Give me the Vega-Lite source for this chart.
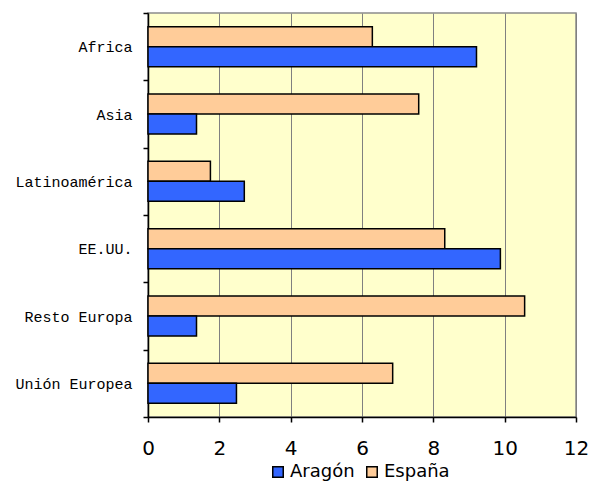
{
  "$schema": "https://vega.github.io/schema/vega-lite/v6.json",
  "width": 428,
  "height": 404,
  "autosize": {"type": "none"},
  "padding": {"left": 148, "top": 13, "right": 14, "bottom": 68},
  "background": "white",
  "config": {
    "view": {"fill": "#FFFFCC", "stroke": "#8c8c8c", "strokeWidth": 1.5}
  },
  "data": {
    "values": [
      {"region": "Africa", "serie": "España", "valor": 6.29},
      {"region": "Africa", "serie": "Aragón", "valor": 9.21},
      {"region": "Asia", "serie": "España", "valor": 7.59},
      {"region": "Asia", "serie": "Aragón", "valor": 1.36},
      {"region": "Latinoamérica", "serie": "España", "valor": 1.75},
      {"region": "Latinoamérica", "serie": "Aragón", "valor": 2.7},
      {"region": "EE.UU.", "serie": "España", "valor": 8.32},
      {"region": "EE.UU.", "serie": "Aragón", "valor": 9.88},
      {"region": "Resto Europa", "serie": "España", "valor": 10.56},
      {"region": "Resto Europa", "serie": "Aragón", "valor": 1.36},
      {"region": "Unión Europea", "serie": "España", "valor": 6.86},
      {"region": "Unión Europea", "serie": "Aragón", "valor": 2.48}
    ]
  },
  "mark": {"type": "bar", "stroke": "black", "strokeWidth": 1.5},
  "encoding": {
    "y": {
      "field": "region",
      "type": "nominal",
      "sort": ["Africa", "Asia", "Latinoamérica", "EE.UU.", "Resto Europa", "Unión Europea"],
      "scale": {"paddingInner": 0, "paddingOuter": 0},
      "axis": {
        "title": null,
        "tickBand": "extent",
        "domainColor": "black",
        "domainWidth": 1.5,
        "tickColor": "black",
        "tickWidth": 1.5,
        "tickSize": 5,
        "labelFont": "Liberation Mono",
        "labelFontSize": 15,
        "labelColor": "black",
        "labelPadding": 11
      }
    },
    "yOffset": {
      "field": "serie",
      "sort": ["España", "Aragón"],
      "scale": {"paddingInner": 0, "paddingOuter": 0.683}
    },
    "x": {
      "field": "valor",
      "type": "quantitative",
      "scale": {"domain": [0, 12], "nice": false},
      "axis": {
        "title": null,
        "values": [0, 2, 4, 6, 8, 10, 12],
        "grid": true,
        "gridColor": "#808080",
        "gridWidth": 1,
        "domainColor": "black",
        "domainWidth": 1.5,
        "tickColor": "black",
        "tickWidth": 1.5,
        "tickSize": 5,
        "labelFlush": false,
        "labelFont": "DejaVu Sans",
        "labelFontSize": 20,
        "labelColor": "black",
        "labelPadding": 16
      }
    },
    "color": {
      "field": "serie",
      "type": "nominal",
      "scale": {"domain": ["Aragón", "España"], "range": ["#3366FF", "#FFCC99"]},
      "legend": {
        "title": null,
        "orient": "none",
        "legendX": 121,
        "legendY": 450,
        "direction": "horizontal",
        "symbolType": "square",
        "symbolSize": 110,
        "symbolStrokeColor": "black",
        "symbolStrokeWidth": 1.5,
        "labelFont": "DejaVu Sans",
        "labelFontSize": 18,
        "labelColor": "black",
        "columnPadding": 8,
        "labelOffset": 3
      }
    }
  }
}
